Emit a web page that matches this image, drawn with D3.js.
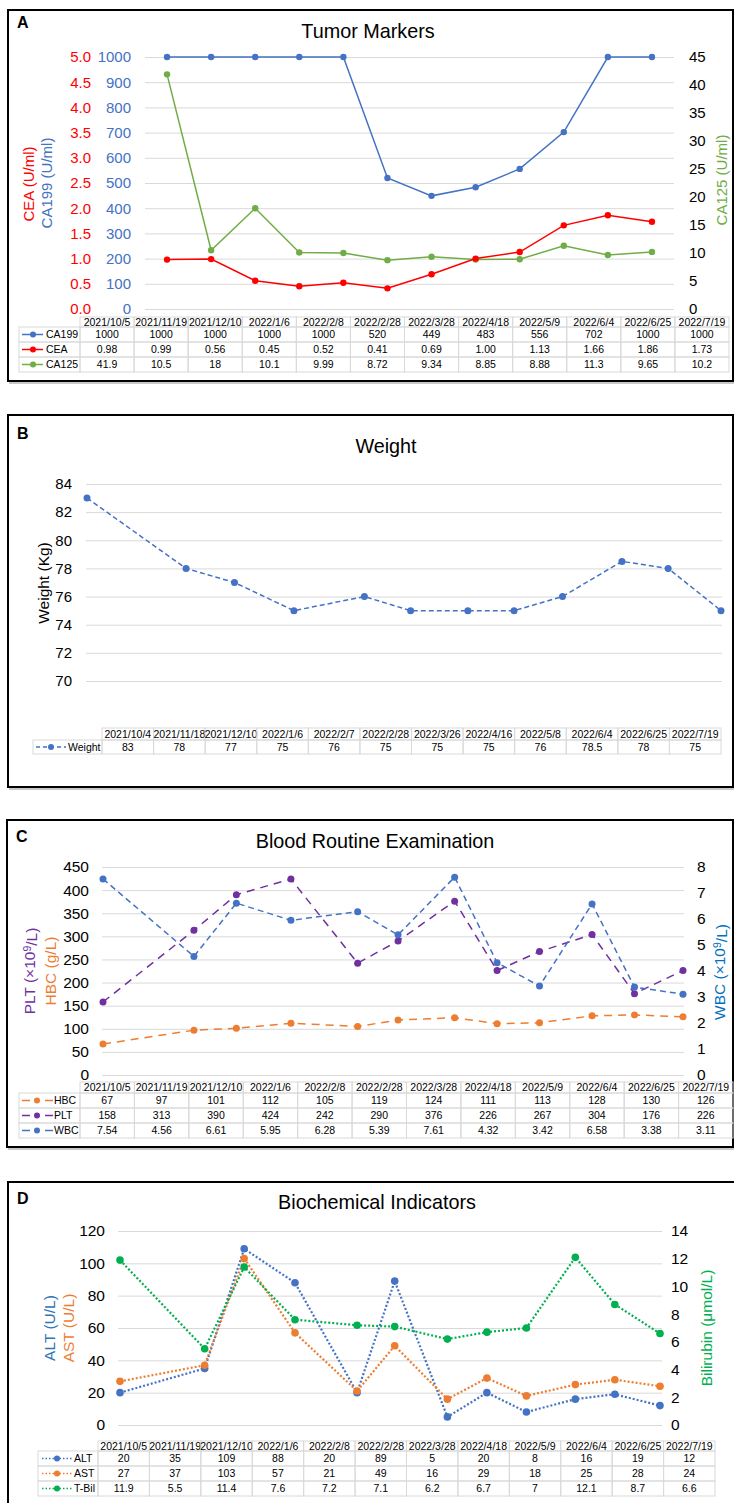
<!DOCTYPE html>
<meta charset="utf-8">
<style>
  body { margin: 0; background: #fff; }
  svg { font-family: "Liberation Sans", Arial, sans-serif; }
  .cell { fill: none; stroke: #d9d9d9; }
  .frame { fill: none; stroke: #000; stroke-width: 2; }
  .shadow { fill: none; stroke: #c8c8c8; stroke-width: 2; }
</style>
<body>
<svg width="734" height="1503"></svg>
<script src="https://d3js.org/d3.v7.min.js"></script>
<script>
  // visit dates (tables A, C, D) and weight dates (table B)
  const visitDates = ["2021/10/5", "2021/11/19", "2021/12/10", "2022/1/6", "2022/2/8", "2022/2/28",
                      "2022/3/28", "2022/4/18", "2022/5/9", "2022/6/4", "2022/6/25", "2022/7/19"];
  const weightDates = ["2021/10/4", "2021/11/18", "2021/12/10", "2022/1/6", "2022/2/7", "2022/2/28",
                       "2022/3/26", "2022/4/16", "2022/5/8", "2022/6/4", "2022/6/25", "2022/7/19"];

  // A - tumor markers
  const ca199 = [1000, 1000, 1000, 1000, 1000, 520, 449, 483, 556, 702, 1000, 1000];
  const cea = [0.98, 0.99, 0.56, 0.45, 0.52, 0.41, 0.69, 1.00, 1.13, 1.66, 1.86, 1.73];
  const ca125 = [41.9, 10.5, 18, 10.1, 9.99, 8.72, 9.34, 8.85, 8.88, 11.3, 9.65, 10.2];
  // B - weight
  const weight = [83, 78, 77, 75, 76, 75, 75, 75, 76, 78.5, 78, 75];
  // C - blood routine
  const hbc = [67, 97, 101, 112, 105, 119, 124, 111, 113, 128, 130, 126];
  const plt = [158, 313, 390, 424, 242, 290, 376, 226, 267, 304, 176, 226];
  const wbc = [7.54, 4.56, 6.61, 5.95, 6.28, 5.39, 7.61, 4.32, 3.42, 6.58, 3.38, 3.11];
  // D - biochemical
  const alt = [20, 35, 109, 88, 20, 89, 5, 20, 8, 16, 19, 12];
  const ast = [27, 37, 103, 57, 21, 49, 16, 29, 18, 25, 28, 24];
  const tbil = [11.9, 5.5, 11.4, 7.6, 7.2, 7.1, 6.2, 6.7, 7, 12.1, 8.7, 6.6];

  // tick labels
  const ceaTicks = [0, 0.5, 1, 1.5, 2, 2.5, 3, 3.5, 4, 4.5, 5];
  const ca199Ticks = [0, 100, 200, 300, 400, 500, 600, 700, 800, 900, 1000];
  const ca125Ticks = [0, 5, 10, 15, 20, 25, 30, 35, 40, 45];
  const weightTicks = [70, 72, 74, 76, 78, 80, 82, 84];
  const bloodTicks = [0, 50, 100, 150, 200, 250, 300, 350, 400, 450];
  const wbcTicks = [0, 1, 2, 3, 4, 5, 6, 7, 8];
  const enzymeTicks = [0, 20, 40, 60, 80, 100, 120];
  const bilTicks = [0, 2, 4, 6, 8, 10, 12, 14];

  const FONT = '"Liberation Sans", Arial, sans-serif';
  const svg = d3.select("svg");
  const parseDate = d3.timeParse("%Y/%m/%d");

  function frame(x, y, w, h) {
    svg.append("rect").attr("class", "shadow").attr("x", x + 2).attr("y", y + 2).attr("width", w).attr("height", h);
    svg.append("rect").attr("x", x).attr("y", y).attr("width", w).attr("height", h).attr("fill", "#fff");
    svg.append("rect").attr("class", "frame").attr("x", x).attr("y", y).attr("width", w).attr("height", h);
  }

  function label(text, x, y, size, opts = {}) {
    return svg.append("text").attr("x", x).attr("y", y)
        .attr("font-size", size)
        .attr("font-weight", opts.bold ? "bold" : null)
        .attr("text-anchor", opts.anchor || "start")
        .attr("fill", opts.color || "#000")
        .text(text);
  }

  // rotated axis title, parts: [text, isSuperscript]
  function vTitle(parts, cx, cy, size, color) {
    const t = svg.append("text")
        .attr("transform", `translate(${cx},${cy}) rotate(-90)`)
        .attr("text-anchor", "middle")
        .attr("dy", "0.35em")
        .attr("font-size", size)
        .attr("fill", color);
    let shifted = false;
    parts.forEach(([txt, sup]) => {
      const s = t.append("tspan").text(txt);
      if (sup) { s.attr("dy", "-0.4em").attr("font-size", size * 0.68); shifted = true; }
      else if (shifted) { s.attr("dy", "0.4em"); shifted = false; }
    });
  }

  function grid(y, ticks, x1, x2) {
    const g = svg.append("g")
        .attr("transform", `translate(${x1},0)`)
        .call(d3.axisLeft(y).tickValues(ticks).tickSize(-(x2 - x1)).tickFormat(""));
    g.select(".domain").remove();
    g.selectAll("line").attr("stroke", "#d9d9d9");
  }

  function tickAxis(axis, x, ticks, fmt, color, size) {
    const g = svg.append("g")
        .attr("transform", `translate(${x},0)`)
        .call(axis.tickValues(ticks).tickFormat(fmt).tickSize(0).tickPadding(0));
    g.attr("font-family", FONT).attr("font-size", size);
    g.select(".domain").remove();
    g.selectAll("text").attr("fill", color);
  }

  function series(xs, vals, x, y, color, dash, width, r) {
    const line = d3.line().x((d, i) => x(xs[i])).y(d => y(d));
    svg.append("path").datum(vals)
        .attr("d", line)
        .attr("fill", "none")
        .attr("stroke", color)
        .attr("stroke-width", width)
        .attr("stroke-dasharray", dash);
    svg.append("g").selectAll("circle")
      .data(vals)
      .join("circle")
        .attr("cx", (d, i) => x(xs[i]))
        .attr("cy", d => y(d))
        .attr("r", r)
        .attr("fill", color);
  }

  function table(cfg) {
    const col = d3.scaleBand().domain(d3.range(cfg.dates.length)).range([cfg.labelRight, cfg.right]);
    const g = svg.append("g").attr("font-size", cfg.fontSize);
    const bw = col.bandwidth();
    const head = g.append("g").selectAll("g").data(cfg.dates).join("g");
    head.append("rect").attr("class", "cell")
        .attr("x", (d, i) => col(i)).attr("y", cfg.top)
        .attr("width", bw).attr("height", cfg.headH);
    head.append("text")
        .attr("x", (d, i) => col(i) + bw / 2).attr("y", cfg.top + cfg.headH / 2)
        .attr("dy", "0.35em").attr("text-anchor", "middle")
        .text(d => d);
    cfg.rows.forEach((r, j) => {
      const y0 = cfg.top + cfg.headH + j * cfg.rowH;
      const ym = y0 + cfg.rowH / 2;
      g.append("rect").attr("class", "cell")
          .attr("x", cfg.left).attr("y", y0)
          .attr("width", cfg.labelRight - cfg.left).attr("height", cfg.rowH);
      const lg = cfg.legend;
      g.append("line")
          .attr("x1", lg[0]).attr("x2", lg[1]).attr("y1", ym).attr("y2", ym)
          .attr("stroke", r.color).attr("stroke-width", 1.5)
          .attr("stroke-dasharray", cfg.legendDash);
      g.append("circle").attr("cx", lg[2]).attr("cy", ym).attr("r", 3).attr("fill", r.color);
      g.append("text").attr("x", lg[3]).attr("y", ym).attr("dy", "0.35em").text(r.name);
      const cells = g.append("g").selectAll("g").data(r.values).join("g");
      cells.append("rect").attr("class", "cell")
          .attr("x", (d, i) => col(i)).attr("y", y0)
          .attr("width", bw).attr("height", cfg.rowH);
      cells.append("text")
          .attr("x", (d, i) => col(i) + bw / 2).attr("y", ym)
          .attr("dy", "0.35em").attr("text-anchor", "middle")
          .text(r.fmt || (d => d));
    });
  }

  // ---------------- A: Tumor Markers ----------------
  frame(8, 10, 725, 371);
  label("A", 17, 28, 16, { bold: true });
  label("Tumor Markers", 368, 38, 19.8, { anchor: "middle" });

  const xA = d3.scaleBand().domain(visitDates).range([145, 674]);
  const xAc = d => xA(d) + xA.bandwidth() / 2;
  const yCea = d3.scaleLinear().domain([0, 5]).range([309, 57]);
  const yCa199 = d3.scaleLinear().domain([0, 1000]).range([309, 57]);
  const yCa125 = d3.scaleLinear().domain([0, 45]).range([309, 57]);

  grid(yCea, ceaTicks, 145, 674);
  tickAxis(d3.axisLeft(yCea), 91, ceaTicks, d3.format(".1f"), "#ff0000", 15);
  tickAxis(d3.axisLeft(yCa199), 131, ca199Ticks, d3.format("d"), "#4472c4", 15);
  tickAxis(d3.axisRight(yCa125), 689, ca125Ticks, d3.format("d"), "#000", 15);
  vTitle([["CEA (U/ml)"]], 29, 184, 15, "#ff0000");
  vTitle([["CA199 (U/ml)"]], 47, 183, 15, "#4472c4");
  vTitle([["CA125 (U/ml)"]], 722, 180, 15, "#70ad47");

  series(visitDates, ca125, xAc, yCa125, "#70ad47", null, 1.5, 3.2);
  series(visitDates, cea, xAc, yCea, "#ff0000", null, 1.5, 3.2);
  series(visitDates, ca199, xAc, yCa199, "#4472c4", null, 1.5, 3.2);

  table({
    dates: visitDates, left: 19, labelRight: 80, right: 729, top: 317, headH: 10, rowH: 15,
    fontSize: 10.5, legend: [22, 43, 33, 46], legendDash: null,
    rows: [
      { name: "CA199", values: ca199, color: "#4472c4" },
      { name: "CEA", values: cea, color: "#ff0000", fmt: d3.format(".2f") },
      { name: "CA125", values: ca125, color: "#70ad47" }
    ]
  });

  // ---------------- B: Weight ----------------
  frame(8, 415, 725, 372);
  label("B", 17, 439, 16, { bold: true });
  label("Weight", 386, 453, 19.8, { anchor: "middle" });

  const xB = d3.scaleTime().domain([parseDate("2021/10/4"), parseDate("2022/7/19")]).range([87, 721]);
  const yB = d3.scaleLinear().domain([70, 84]).range([681, 484]);
  grid(yB, weightTicks, 86, 722);
  tickAxis(d3.axisLeft(yB), 72, weightTicks, d3.format("d"), "#000", 15);
  vTitle([["Weight (Kg)"]], 44, 583, 15.5, "#000");
  series(weightDates.map(parseDate), weight, xB, yB, "#4472c4", "5,3", 1.5, 3.5);

  table({
    dates: weightDates, left: 33, labelRight: 102, right: 721, top: 728, headH: 12, rowH: 14,
    fontSize: 10.5, legend: [36, 66, 51, 68], legendDash: "4,3",
    rows: [{ name: "Weight", values: weight, color: "#4472c4" }]
  });

  // ---------------- C: Blood Routine Examination ----------------
  frame(7, 820, 726, 327);
  label("C", 16, 842, 16, { bold: true });
  label("Blood Routine Examination", 375, 848, 19.8, { anchor: "middle" });

  const xC = d3.scaleTime().domain([parseDate("2021/10/5"), parseDate("2022/7/19")]).range([103, 683]);
  const yBlood = d3.scaleLinear().domain([0, 450]).range([1075, 867]);
  const yWbc = d3.scaleLinear().domain([0, 8]).range([1075, 867]);
  grid(yBlood, bloodTicks, 102, 684);
  tickAxis(d3.axisLeft(yBlood), 89, bloodTicks, d3.format("d"), "#000", 15.5);
  tickAxis(d3.axisRight(yWbc), 697, wbcTicks, d3.format("d"), "#000", 15.5);
  vTitle([["PLT (×10"], ["9", true], ["/L)"]], 30, 971, 15.5, "#7030a0");
  vTitle([["HBC (g/L)"]], 51, 971, 15.5, "#ed7d31");
  vTitle([["WBC (×10"], ["9", true], ["/L)"]], 720, 972, 15.5, "#0070c0");

  const visitTimes = visitDates.map(parseDate);
  series(visitTimes, hbc, xC, yBlood, "#ed7d31", "8,6", 1.5, 3.5);
  series(visitTimes, plt, xC, yBlood, "#7030a0", "8,6", 1.5, 3.5);
  series(visitTimes, wbc, xC, yWbc, "#4472c4", "6,4", 1.5, 3.5);

  table({
    dates: visitDates, left: 19, labelRight: 80, right: 733, top: 1082, headH: 11, rowH: 15,
    fontSize: 10.5, legend: [22, 53, 37, 54], legendDash: "8,15",
    rows: [
      { name: "HBC", values: hbc, color: "#ed7d31" },
      { name: "PLT", values: plt, color: "#7030a0" },
      { name: "WBC", values: wbc, color: "#4472c4" }
    ]
  });

  // ---------------- D: Biochemical Indicators ----------------
  frame(8, 1182, 727, 340);
  label("D", 17, 1204, 16, { bold: true });
  label("Biochemical Indicators", 377, 1209, 19.8, { anchor: "middle" });

  const xD = d3.scaleTime().domain([parseDate("2021/10/5"), parseDate("2022/7/19")]).range([120, 660]);
  const yEnz = d3.scaleLinear().domain([0, 120]).range([1425, 1231]);
  const yBil = d3.scaleLinear().domain([0, 14]).range([1425, 1231]);
  grid(yEnz, enzymeTicks, 118, 662);
  tickAxis(d3.axisLeft(yEnz), 105, enzymeTicks, d3.format("d"), "#000", 15.5);
  tickAxis(d3.axisRight(yBil), 671, bilTicks, d3.format("d"), "#000", 15.5);
  vTitle([["ALT (U/L)"]], 50, 1328, 15.5, "#2e75b6");
  vTitle([["AST (U/L)"]], 69, 1328, 15.5, "#ed7d31");
  vTitle([["Bilirubin (μmol/L)"]], 707, 1328, 15.5, "#00b050");

  series(visitTimes, alt, xD, yEnz, "#4472c4", "2,2", 2.2, 3.8);
  series(visitTimes, ast, xD, yEnz, "#ed7d31", "2,2", 2.2, 3.8);
  series(visitTimes, tbil, xD, yBil, "#00b050", "2,2", 2.2, 3.8);

  table({
    dates: visitDates, left: 38, labelRight: 98, right: 715, top: 1441, headH: 10, rowH: 15,
    fontSize: 10.5, legend: [42, 72, 57, 74], legendDash: "1.5,2",
    rows: [
      { name: "ALT", values: alt, color: "#4472c4" },
      { name: "AST", values: ast, color: "#ed7d31" },
      { name: "T-Bil", values: tbil, color: "#00b050" }
    ]
  });
</script>
</body>
</html>
